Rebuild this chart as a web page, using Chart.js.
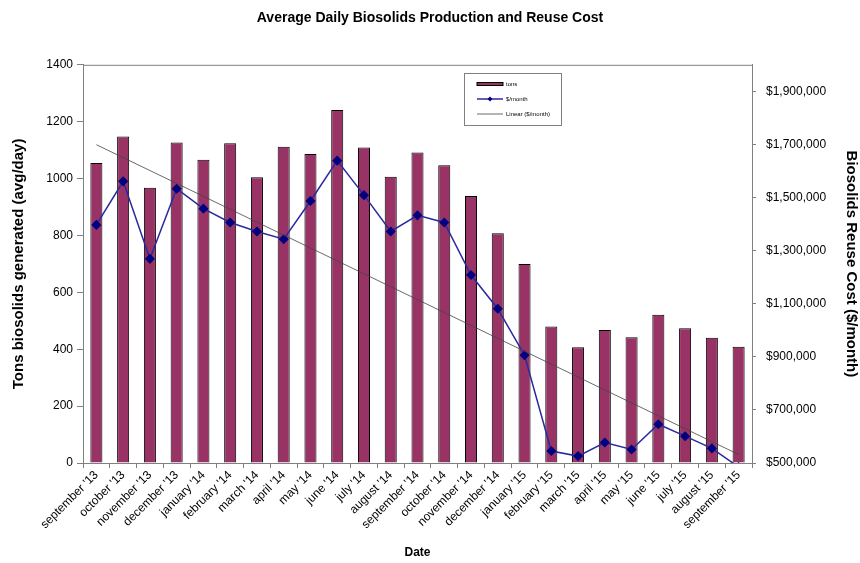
<!DOCTYPE html>
<html>
<head>
<meta charset="utf-8">
<title>Average Daily Biosolids Production and Reuse Cost</title>
<script src="https://cdn.jsdelivr.net/npm/chart.js@4/dist/chart.umd.min.js"></script>
<style>
  html, body { margin: 0; padding: 0; background: #fff; }
  #wrap { width: 860px; height: 563px; position: relative; }
</style>
</head>
<body>
<div id="wrap"><canvas id="chart"></canvas></div>
<script>
const months = [
    "september '13", "october '13", "november '13", "december '13",
    "january '14", "february '14", "march '14", "april '14", "may '14",
    "june '14", "july '14", "august '14", "september '14", "october '14",
    "november '14", "december '14", "january '15", "february '15",
    "march '15", "april '15", "may '15", "june '15", "july '15",
    "august '15", "september '15"
];

// tons per day (left axis)
const tons = [
    1055, 1148, 968, 1127, 1066, 1124, 1005, 1112, 1086, 1241, 1109, 1006,
    1092, 1047, 939, 808, 700, 480, 407, 468, 442, 521, 474, 440, 409
];

// $/month (right axis)
const cost = [
    1397000, 1561000, 1269000, 1533000, 1458000, 1406000, 1372000, 1343000,
    1487000, 1639000, 1509000, 1372000, 1433000, 1406000, 1208000, 1081000,
    906000, 545000, 526000, 577000, 551000, 646000, 601000, 555000, 485000
];

// ends of the linear trend line
const trendStart = 1699000;
const trendEnd = 532000;

// axis ticks
const tonTicks = [0, 200, 400, 600, 800, 1000, 1200, 1400];
const costTicks = [500000, 700000, 900000, 1100000, 1300000, 1500000, 1700000, 1900000];

const font = "'Liberation Sans', Arial, sans-serif";

const money = v => '$' + v.toLocaleString('en-US');

// gray frame round the plot area
const frame = {
    id: 'frame',
    beforeDatasetsDraw(chart) {
        const a = chart.chartArea;
        const ctx = chart.ctx;
        ctx.save();
        ctx.strokeStyle = '#808080';
        ctx.lineWidth = 1;
        ctx.strokeRect(a.left + 0.5, a.top + 0.5, a.right - a.left, a.bottom - a.top);
        ctx.restore();
    }
};

// small legend box inside the plot, like the original
const boxLegend = {
    id: 'boxLegend',
    afterDraw(chart) {
        const ctx = chart.ctx;
        const ds = chart.data.datasets;
        const x = 464.5, y = 73.5, w = 97, h = 52;
        ctx.save();
        ctx.fillStyle = '#fff';
        ctx.fillRect(x, y, w, h);
        ctx.strokeStyle = '#808080';
        ctx.lineWidth = 1;
        ctx.strokeRect(x, y, w, h);

        ctx.font = '6px ' + font;
        ctx.fillStyle = '#000';
        ctx.textBaseline = 'middle';

        // tons
        ctx.fillStyle = ds[0].backgroundColor;
        ctx.fillRect(477, 82.5, 26, 3);
        ctx.strokeStyle = '#000';
        ctx.strokeRect(477, 82.5, 26, 3);
        ctx.fillStyle = '#000';
        ctx.fillText(ds[0].label, 506, 84);

        // $/month
        ctx.strokeStyle = ds[1].borderColor;
        ctx.lineWidth = 1.5;
        ctx.beginPath();
        ctx.moveTo(477, 99);
        ctx.lineTo(503, 99);
        ctx.stroke();
        ctx.fillStyle = ds[1].pointBackgroundColor;
        ctx.beginPath();
        ctx.moveTo(490, 96.5);
        ctx.lineTo(492.5, 99);
        ctx.lineTo(490, 101.5);
        ctx.lineTo(487.5, 99);
        ctx.closePath();
        ctx.fill();
        ctx.fillStyle = '#000';
        ctx.fillText(ds[1].label, 506, 99);

        // trend
        ctx.strokeStyle = ds[2].borderColor;
        ctx.lineWidth = 0.8;
        ctx.beginPath();
        ctx.moveTo(477, 114);
        ctx.lineTo(503, 114);
        ctx.stroke();
        ctx.fillText(ds[2].label, 506, 114);
        ctx.restore();
    }
};

const chart = new Chart("chart", {
    data: {
        labels: months,
        datasets: [{
            type: 'bar',
            label: 'tons',
            data: tons,
            yAxisID: 'y',
            backgroundColor: '#993366',
            borderColor: '#000',
            borderWidth: 1,
            barPercentage: 0.45,
            categoryPercentage: 1,
            order: 3
        }, {
            type: 'line',
            label: '$/month',
            data: cost,
            yAxisID: 'y2',
            borderColor: '#2a2aa0',
            borderWidth: 1.5,
            pointStyle: 'rectRot',
            pointRadius: 4,
            pointBackgroundColor: '#000080',
            pointBorderColor: '#000080',
            tension: 0,
            clip: 0,
            order: 2
        }, {
            type: 'line',
            label: 'Linear ($/month)',
            data: [{x: months[0], y: trendStart}, {x: months[months.length - 1], y: trendEnd}],
            yAxisID: 'y2',
            borderColor: '#444',
            borderWidth: 0.8,
            pointRadius: 0,
            order: 1
        }]
    },
    options: {
        responsive: true,
        maintainAspectRatio: false,
        animation: false,
        layout: {padding: 0},
        plugins: {
            legend: {display: false},
            tooltip: {enabled: false},
            title: {
                display: true,
                text: 'Average Daily Biosolids Production and Reuse Cost',
                color: '#000',
                font: {family: font, size: 14, weight: 'bold'},
                padding: {top: 10, bottom: 38}
            }
        },
        scales: {
            x: {
                ticks: {
                    color: '#000',
                    font: {family: font, size: 12},
                    minRotation: 45,
                    maxRotation: 45,
                    autoSkip: false,
                    padding: 0
                },
                grid: {drawOnChartArea: false, color: '#808080', tickLength: 5},
                border: {color: '#808080'},
                title: {
                    display: true,
                    text: 'Date',
                    color: '#000',
                    font: {family: font, size: 12, weight: 'bold'},
                    padding: {top: 0, bottom: 3}
                },
                afterFit(scale) { scale.height = 100; }
            },
            y: {
                position: 'left',
                min: 0,
                max: 1400,
                afterBuildTicks(scale) {
                    scale.ticks = tonTicks.map(v => ({value: v}));
                },
                ticks: {
                    color: '#000',
                    font: {family: font, size: 12},
                    padding: 4,
                    callback: v => String(v)
                },
                grid: {drawOnChartArea: false, color: '#808080', tickLength: 6},
                border: {color: '#808080'},
                title: {
                    display: true,
                    text: 'Tons biosolids generated (avg/day)',
                    color: '#000',
                    font: {family: font, size: 15, weight: 'bold'},
                    padding: {top: 10, bottom: 0}
                },
                afterFit(scale) { scale.width = 83; }
            },
            y2: {
                position: 'right',
                min: 500000,
                max: 2000000,
                afterBuildTicks(scale) {
                    scale.ticks = costTicks.map(v => ({value: v}));
                },
                ticks: {
                    color: '#000',
                    font: {family: font, size: 12},
                    padding: 10,
                    callback: v => money(v)
                },
                grid: {drawOnChartArea: false, color: '#808080', tickLength: 4},
                border: {color: '#808080'},
                title: {
                    display: true,
                    text: 'Biosolids Reuse Cost ($/month)',
                    color: '#000',
                    font: {family: font, size: 15, weight: 'bold'},
                    padding: {top: 0, bottom: 0}
                },
                afterFit(scale) { scale.width = 108; }
            }
        }
    },
    plugins: [frame, boxLegend]
});
</script>
</body>
</html>
